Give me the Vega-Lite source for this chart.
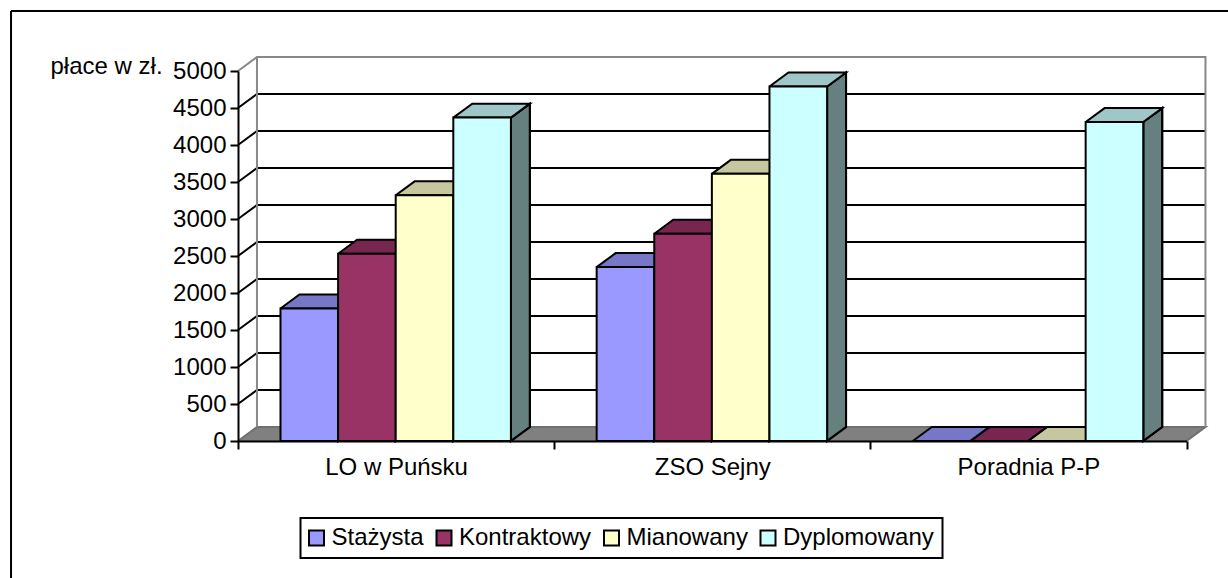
{
"$schema":"https://vega.github.io/schema/vega-lite/v6.json",
"width":1217,"height":567,
"autosize":{"type":"none"},
"padding":{"left":11,"top":11,"right":0,"bottom":0},
"background":"white",
"view":{"stroke":null},
"config":{"font":"Liberation Sans","legend":{"strokeWidth":2}},
"data":{"values":[
{"school":"LO w Puńsku","level":"Stażysta","value":1790},
{"school":"LO w Puńsku","level":"Kontraktowy","value":2530},
{"school":"LO w Puńsku","level":"Mianowany","value":3320},
{"school":"LO w Puńsku","level":"Dyplomowany","value":4370},
{"school":"ZSO Sejny","level":"Stażysta","value":2350},
{"school":"ZSO Sejny","level":"Kontraktowy","value":2800},
{"school":"ZSO Sejny","level":"Mianowany","value":3610},
{"school":"ZSO Sejny","level":"Dyplomowany","value":4790},
{"school":"Poradnia P-P","level":"Stażysta","value":0},
{"school":"Poradnia P-P","level":"Kontraktowy","value":0},
{"school":"Poradnia P-P","level":"Mianowany","value":0},
{"school":"Poradnia P-P","level":"Dyplomowany","value":4310}
]},
"transform":[
{"calculate":"indexof(['LO w Puńsku','ZSO Sejny','Poradnia P-P'],datum.school)+0.1344+indexof(['Stażysta','Kontraktowy','Mianowany','Dyplomowany'],datum.level)*0.1822","as":"x0"},
{"calculate":"datum.x0+0.1822","as":"x1"}
],
"layer":[
{"data":{"values":[{"a":"floor","fx":0,"fy":0,"o":0},{"a":"floor","fx":0.06,"fy":189,"o":1},{"a":"floor","fx":3.06,"fy":189,"o":2},{"a":"floor","fx":3,"fy":0,"o":3},{"a":"floor","fx":0,"fy":0,"o":4}]},
 "mark":{"type":"line","fill":"#808080","stroke":"#707070","strokeWidth":2},
 "encoding":{
  "x":{"field":"fx","type":"quantitative","title":null,"scale":{"domain":[0,3],"range":[227,1175.5],"nice":false,"zero":false},
   "axis":{"title":null,"values":[0,0.5,1,1.5,2,2.5,3],"grid":false,"offset":-137,"zindex":1,"domainColor":"#000","domainWidth":2,"tickColor":"#000","tickWidth":2,"tickSize":8,
    "tickOpacity":{"expr":"datum.value%1==0?1:0"},
    "labelExpr":"datum.value==0.5?'LO w Puńsku':(datum.value==1.5?'ZSO Sejny':(datum.value==2.5?'Poradnia P-P':''))",
    "labelFont":"Liberation Sans","labelFontSize":24,"labelColor":"#000","labelPadding":6,"labelOverlap":false,"labelFlush":false}},
  "y":{"field":"fy","type":"quantitative","title":"płace w zł.","scale":{"domain":[0,5000],"range":[430,60],"nice":false,"zero":false},
   "axis":{"values":[0,500,1000,1500,2000,2500,3000,3500,4000,4500,5000],"format":"d","grid":false,"offset":-227,"zindex":1,"domainColor":"#000","domainWidth":2,"tickColor":"#000","tickWidth":2,"tickSize":8,
    "labelFont":"Liberation Sans","labelFontSize":24,"labelColor":"#000","labelPadding":4,"labelOverlap":false,"labelFlush":false,
    "titleFont":"Liberation Sans","titleFontSize":24,"titleFontWeight":"normal","titleColor":"#000","titleAngle":0,"titleAlign":"left","titleBaseline":"alphabetic","titleX":-188,"titleY":62}},
  "order":{"field":"o"}}},
{"data":{"values":[{"tick":500},{"tick":1000},{"tick":1500},{"tick":2000},{"tick":2500},{"tick":3000},{"tick":3500},{"tick":4000},{"tick":4500}]},
 "transform":[{"calculate":"[0,1,2]","as":"corner"},{"flatten":["corner"]},
  {"calculate":"datum.corner==0?0:(datum.corner==1?0.06:3.06)","as":"fx"},
  {"calculate":"datum.tick+(datum.corner==0?0:189)","as":"fy"}],
 "mark":{"type":"line","stroke":"#000","strokeWidth":2},
 "encoding":{"x":{"field":"fx","type":"quantitative","title":null},"y":{"field":"fy","type":"quantitative","title":"płace w zł."},"detail":{"field":"tick"},"order":{"field":"corner"}}},
{"data":{"values":[
 {"a":"outer","fx":0,"fy":5000,"o":0},{"a":"outer","fx":0.06,"fy":5189,"o":1},{"a":"outer","fx":3.06,"fy":5189,"o":2},{"a":"outer","fx":3.06,"fy":189,"o":3},
 {"a":"inner","fx":0.06,"fy":5189,"o":0},{"a":"inner","fx":0.06,"fy":189,"o":1}]},
 "mark":{"type":"line","stroke":"#888888","strokeWidth":2},
 "encoding":{"x":{"field":"fx","type":"quantitative","title":null},"y":{"field":"fy","type":"quantitative","title":"płace w zł."},"detail":{"field":"a"},"order":{"field":"o"}}},
{"transform":[{"calculate":"[0,1,2,3,4]","as":"corner"},{"flatten":["corner"]},
  {"calculate":"datum.x1+((datum.corner==1||datum.corner==2)?0.06:0)","as":"fx"},
  {"calculate":"datum.corner==1?datum.value+189:(datum.corner==2?189:(datum.corner==3?0:datum.value))","as":"fy"}],
 "layer":[
 {"mark":{"type":"line","stroke":"#000","strokeWidth":2},
  "encoding":{"x":{"field":"fx","type":"quantitative","title":null},"y":{"field":"fy","type":"quantitative","title":"płace w zł."},
   "fill":{"field":"level","type":"nominal","sort":null,
    "scale":{"domain":["Stażysta","Kontraktowy","Mianowany","Dyplomowany"],"range":["#9999FF","#993366","#FFFFCC","#CCFFFF"]},
    "legend":{"title":null,"orient":"none","legendX":289.5,"legendY":507,"direction":"horizontal","columns":4,"symbolType":"square","symbolSize":225,"symbolOffset":-4,"symbolStrokeColor":"#000","symbolStrokeWidth":2,"labelFont":"Liberation Sans","labelFontSize":24,"labelColor":"#000","labelOffset":3,"columnPadding":7.5,"padding":8,"strokeColor":"#000","fillColor":"white","labelLimit":400,
     "encode":{"symbols":{"update":{"stroke":{"value":"#000"},"strokeWidth":{"value":2}}}}}},
   "detail":{"field":"school"},"order":{"field":"corner"}}},
 {"mark":{"type":"line","fill":"#000","fillOpacity":0.5,"stroke":"#000","strokeWidth":2},
  "encoding":{"x":{"field":"fx","type":"quantitative","title":null},"y":{"field":"fy","type":"quantitative","title":"płace w zł."},"detail":[{"field":"school"},{"field":"level"}],"order":{"field":"corner"}}}
 ]},
{"transform":[{"calculate":"[0,1,2,3,4]","as":"corner"},{"flatten":["corner"]},
  {"calculate":"(datum.corner==1||datum.corner==2?datum.x1:datum.x0)+((datum.corner==2||datum.corner==3)?0.06:0)","as":"fx"},
  {"calculate":"datum.value+((datum.corner==2||datum.corner==3)?189:0)","as":"fy"}],
 "layer":[
 {"mark":{"type":"line","strokeWidth":0},
  "encoding":{"x":{"field":"fx","type":"quantitative","title":null},"y":{"field":"fy","type":"quantitative","title":"płace w zł."},"fill":{"field":"level","type":"nominal"},"detail":{"field":"school"},"order":{"field":"corner"}}},
 {"mark":{"type":"line","fill":"#000","fillOpacity":0.22,"stroke":"#000","strokeWidth":2},
  "encoding":{"x":{"field":"fx","type":"quantitative","title":null},"y":{"field":"fy","type":"quantitative","title":"płace w zł."},"detail":[{"field":"school"},{"field":"level"}],"order":{"field":"corner"}}}
 ]},
{"mark":{"type":"rect","stroke":"#000","strokeWidth":2},
 "encoding":{
  "x":{"field":"x0","type":"quantitative","title":null},
  "x2":{"field":"x1"},
  "y":{"field":"value","type":"quantitative","title":"płace w zł."},
  "y2":{"datum":0},
  "fill":{"field":"level","type":"nominal"}
 }},
{"data":{"values":[{"edge":"frame"}]},
 "mark":{"type":"rule","stroke":"#000","strokeWidth":2},
 "encoding":{"x":{"datum":-0.7179,"type":"quantitative","title":null}}},
{"data":{"values":[{"edge":"frame"}]},
 "mark":{"type":"rule","stroke":"#000","strokeWidth":2},
 "encoding":{"y":{"datum":5810,"type":"quantitative","title":"płace w zł."}}}
]}
